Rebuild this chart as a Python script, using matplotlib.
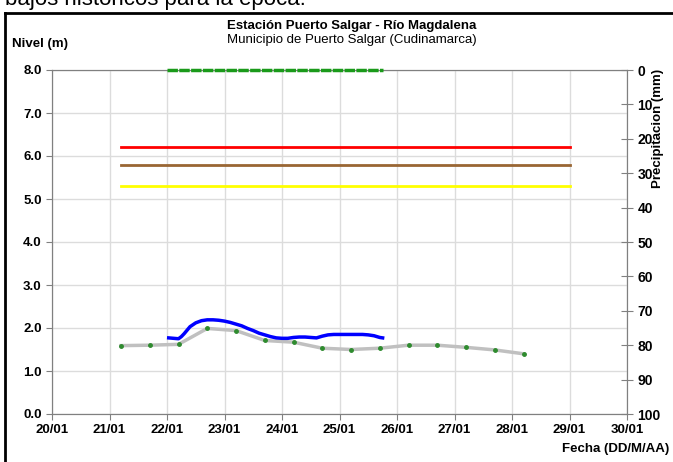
import matplotlib.pyplot as plt
from matplotlib.lines import Line2D

plt.rcParams['font.family'] = ['Liberation Sans', 'DejaVu Sans']

# day numbers in January (20 -> 20/01)
day_ticks = [20, 21, 22, 23, 24, 25, 26, 27, 28, 29, 30]
day_labels = ['20/01', '21/01', '22/01', '23/01', '24/01', '25/01',
              '26/01', '27/01', '28/01', '29/01', '30/01']

# observed level (m)
nivel_t = [22.03, 22.2, 22.25, 22.3, 22.4, 22.5, 22.6, 22.7, 22.8, 22.9,
           23.0, 23.1, 23.2, 23.3, 23.4, 23.5, 23.6, 23.7, 23.8, 23.9,
           24.0, 24.1, 24.2, 24.3, 24.4, 24.5, 24.6, 24.7, 24.8, 24.9,
           25.0, 25.1, 25.2, 25.3, 25.4, 25.5, 25.6, 25.7, 25.75]
nivel_m = [1.77, 1.75, 1.80, 1.87, 2.03, 2.12, 2.17, 2.19, 2.19, 2.18,
           2.16, 2.13, 2.09, 2.05, 1.99, 1.94, 1.88, 1.84, 1.80, 1.77,
           1.76, 1.76, 1.78, 1.79, 1.79, 1.78, 1.77, 1.81, 1.84, 1.85,
           1.85, 1.85, 1.85, 1.85, 1.85, 1.84, 1.82, 1.78, 1.77]

# historical / forecast level (gray line with dots)
hist_t = [21.2, 21.7, 22.2, 22.7, 23.2, 23.7, 24.2, 24.7, 25.2, 25.7,
          26.2, 26.7, 27.2, 27.7, 28.2]
hist_m = [1.59, 1.60, 1.62, 1.99, 1.94, 1.71, 1.67, 1.53, 1.50, 1.53,
          1.60, 1.60, 1.55, 1.49, 1.40]

# alert thresholds (m)
umbral_t = [21.2, 29.0]
umbral_rojo = 6.2
umbral_naranja = 5.8
umbral_amarillo = 5.3

# precipitation (mm)
precip_t = [22.0, 22.25, 22.5, 22.75, 23.0, 23.25, 23.5, 23.75, 24.0,
            24.25, 24.5, 24.75, 25.0, 25.25, 25.5, 25.75]
precip_mm = [0, 0, 0, 0, 0, 0, 0, 0, 0, 0, 0, 0, 0, 0, 0, 0]

W, H = 673, 462
fig = plt.figure(figsize=(W / 100, H / 100), dpi=100)
ax = fig.add_axes([52 / W, 1 - 414 / H, (627 - 52) / W, (414 - 70) / H])

spine_col = '#808080'
for s in ax.spines.values():
    s.set_color(spine_col)

ax.set_xlim(20, 30)
ax.set_ylim(0, 8)
ax.set_xticks(day_ticks)
ax.set_xticklabels(day_labels)
ax.set_yticks(range(0, 9))
ax.set_yticklabels(['%.1f' % v for v in range(0, 9)])
ax.grid(True, color='#dcdcdc', lw=1)
ax.set_axisbelow(True)
ax.tick_params(axis='both', direction='out', length=4, color=spine_col,
               labelsize=9.5)
for lab in ax.get_xticklabels() + ax.get_yticklabels():
    lab.set_fontweight('bold')

ax.plot(umbral_t, [umbral_rojo] * 2, color='#ff0000', lw=2)
ax.plot(umbral_t, [umbral_naranja] * 2, color='#996633', lw=2)
ax.plot(umbral_t, [umbral_amarillo] * 2, color='#ffff00', lw=2)

ax.plot(hist_t, hist_m, color='#c0c0c0', lw=2.5, marker='o', ms=2.5,
        mfc='#2e8b2e', mec='#2e8b2e', zorder=3)
ax.plot(nivel_t, nivel_m, color='#0000ff', lw=2.5, zorder=4)

ax2 = ax.twinx()
ax2.set_ylim(100, 0)
ax2.set_yticks(range(0, 101, 10))
for s in ax2.spines.values():
    s.set_color(spine_col)
ax2.tick_params(axis='y', direction='inout', length=8, color=spine_col,
                labelsize=10)
for lab in ax2.get_yticklabels():
    lab.set_fontweight('bold')
ax2.plot(precip_t, precip_mm, color='#1a9a1a', lw=2.5,
         linestyle=(0, (3, 0.4)), clip_on=False, zorder=5)

# titles and axis labels
fig.text(352 / W, 1 - 26 / H, 'Estación Puerto Salgar - Río Magdalena',
         ha='center', va='center', fontsize=9.5, fontweight='bold')
fig.text(352 / W, 1 - 40 / H, 'Municipio de Puerto Salgar (Cudinamarca)',
         ha='center', va='center', fontsize=9.5)
fig.text(12 / W, 1 - 44 / H, 'Nivel (m)', ha='left', va='center',
         fontsize=9.5, fontweight='bold')
fig.text(669 / W, 1 - 449 / H, 'Fecha (DD/M/AA)', ha='right', va='center',
         fontsize=9.5, fontweight='bold')
fig.text(658 / W, 1 - 128 / H, 'Precipitacion (mm)', ha='center',
         va='center', rotation=90, fontsize=9.5, fontweight='bold')

# text cut off from the page above the chart
fig.text(5 / W, 1 - 5 / H, 'bajos históricos para la época.', ha='left',
         va='baseline', fontsize=16)

# frame around the chart
fig.add_artist(Line2D([5 / W, 5 / W], [0, 1 - 13 / H], color='black',
                      lw=2, transform=fig.transFigure))
fig.add_artist(Line2D([5 / W, 1], [1 - 13 / H, 1 - 13 / H], color='black',
                      lw=2, transform=fig.transFigure))

fig.savefig('out.png', dpi=100)
